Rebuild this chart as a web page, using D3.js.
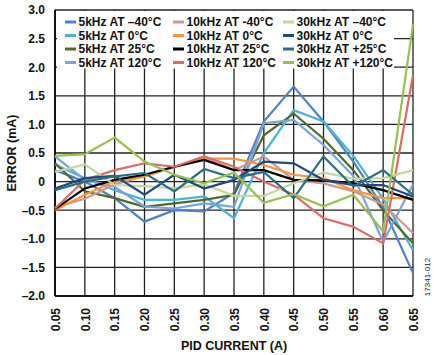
<!DOCTYPE html>
<html><head><meta charset="utf-8">
<script src="https://cdn.jsdelivr.net/npm/d3@7"></script>
<style>body{margin:0;background:#fff}svg{display:block}text{font-family:"Liberation Sans",Arial,sans-serif}</style>
</head><body><svg id="c" width="435" height="355"></svg>
<script>
const currents = [0.05,0.10,0.15,0.20,0.25,0.30,0.35,0.40,0.45,0.50,0.55,0.60,0.65];
const xTickLabels = ["0.05","0.10","0.15","0.20","0.25","0.30","0.35","0.40","0.45","0.50","0.55","0.60","0.65"];
const yTicks = [3.0,2.5,2.0,1.5,1.0,0.5,0,-0.5,-1.0,-1.5,-2.0];
const yTickLabels = ["3.0","2.5","2.0","1.5","1.0","0.5","0","–0.5","–1.0","–1.5","–2.0"];
const seriesNames = ["5kHz AT –40°C","5kHz AT 0°C","5kHz AT 25°C","5kHz AT 120°C",
  "10kHz AT -40°C","10kHz AT 0°C","10kHz AT 25°C","10kHz AT 120°C",
  "30kHz AT –40°C","30kHz AT 0°C","30kHz AT +25°C","30kHz AT +120°C"];
const seriesColors = ["#4f81c7","#4bb4d2","#4f6a28","#79a3dc","#c89a9a","#f7963f","#000000","#dc6a68","#c3d69b","#1f4a7d","#2a6f80","#97c051"];
const s5k_m40  = [0.20,0.00,-0.29,-0.70,-0.50,-0.52,-0.20,1.05,1.66,1.05,0.35,-0.45,-1.60];
const s5k_0    = [0.30,0.06,-0.15,-0.32,-0.32,-0.26,-0.64,0.50,1.25,1.05,0.45,-0.30,-1.20];
const s5k_25   = [0.32,-0.17,-0.29,-0.44,-0.38,-0.32,-0.23,0.81,1.19,0.75,0.20,-0.50,-1.08];
const s5k_120  = [0.44,0.03,-0.09,-0.44,-0.47,-0.38,-0.44,1.02,1.08,0.64,0.10,-1.05,-0.05];
const s10k_m40 = [-0.45,-0.30,-0.05,0.10,0.25,0.42,0.20,0.44,0.03,-0.03,-0.17,-0.40,-0.90];
const s10k_0   = [-0.50,-0.23,0.00,0.09,0.26,0.40,0.40,0.29,0.12,0.06,-0.15,-0.29,-0.29];
const s10k_25  = [-0.48,-0.12,0.03,0.12,0.26,0.38,0.20,0.20,0.03,0.02,-0.03,-0.15,-0.32];
const s10k_120 = [-0.47,0.03,0.20,0.32,0.26,0.44,0.26,0.00,-0.23,-0.64,-0.79,-1.08,1.86];
const s30k_m40 = [0.17,0.30,-0.06,-0.08,-0.12,-0.05,-0.25,-0.25,-0.03,0.16,0.05,0.06,0.20];
const s30k_0   = [-0.12,0.06,0.10,-0.23,0.12,-0.12,0.03,0.35,0.32,0.03,-0.06,-0.06,-0.26];
const s30k_25  = [-0.15,0.00,0.09,0.15,-0.17,0.22,0.06,0.17,-0.29,0.44,-0.09,0.20,-0.23];
const s30k_120 = [0.45,0.48,0.77,0.35,0.12,-0.03,0.16,-0.37,-0.22,-0.43,-0.23,-0.87,2.75];
const seriesValues = [s5k_m40,s5k_0,s5k_25,s5k_120,s10k_m40,s10k_0,s10k_25,s10k_120,s30k_m40,s30k_0,s30k_25,s30k_120];

const svg = d3.select("#c");
const L=55,R=413,T=10,B=296;
const x = d3.scaleLinear().domain([0.05,0.65]).range([L,R]);
const y = d3.scaleLinear().domain([-2,3]).range([B,T]);

// grid
const g = svg.append("g");
g.selectAll("line.v").data(currents).enter().append("line")
  .attr("x1",d=>x(d)).attr("x2",d=>x(d)).attr("y1",T).attr("y2",B)
  .attr("stroke","#222").attr("stroke-width",1.3);
g.selectAll("line.h").data(yTicks).enter().append("line")
  .attr("x1",L).attr("x2",R).attr("y1",d=>y(d)).attr("y2",d=>y(d))
  .attr("stroke","#222").attr("stroke-width",1.3);
g.append("line").attr("x1",L).attr("x2",L).attr("y1",T).attr("y2",B).attr("stroke","#000").attr("stroke-width",1.6);
g.append("line").attr("x1",L).attr("x2",R).attr("y1",B).attr("y2",B).attr("stroke","#000").attr("stroke-width",1.6);

// y labels
const yAxis = d3.axisLeft(y).tickValues(yTicks).tickSize(0).tickPadding(0)
  .tickFormat((d,i)=>yTickLabels[i]);
const ya = svg.append("g").attr("transform",`translate(${L-10},0)`).call(yAxis);
ya.select(".domain").remove();
ya.selectAll("text").attr("font-size",12).attr("font-weight","bold").attr("fill","#111")
  .attr("font-family","'Liberation Sans',Arial,sans-serif");

// x labels
const xAxis = d3.axisBottom(x).tickValues(currents).tickSize(0).tickFormat((d,i)=>xTickLabels[i]);
const xa = svg.append("g").attr("transform",`translate(0,${B})`).call(xAxis);
xa.select(".domain").remove();
xa.selectAll("text").attr("font-size",12).attr("font-weight","bold").attr("fill","#111")
  .attr("font-family","'Liberation Sans',Arial,sans-serif")
  .attr("transform","rotate(-90)").attr("text-anchor","end").attr("dy","0.35em")
  .attr("x",-12).attr("y",0);

// lines
const line = d3.line().x((d,i)=>x(currents[i])).y(d=>y(d));
svg.append("g").selectAll("path").data(seriesValues).enter().append("path")
  .attr("d",line).attr("fill","none").attr("stroke",(d,i)=>seriesColors[i])
  .attr("stroke-width",2.2).attr("stroke-linejoin","miter");

// legend
const lg = svg.append("g");
lg.append("rect").attr("x",L+2).attr("y",T+1).attr("width",337).attr("height",57.5).attr("fill","#fff");
const colX=[65,173,283], rowY=[22,35.5,49,62.5];
seriesNames.forEach((n,i)=>{
  const c=Math.floor(i/4), r=i%4;
  lg.append("line").attr("x1",colX[c]).attr("x2",colX[c]+11).attr("y1",rowY[r]).attr("y2",rowY[r])
    .attr("stroke",seriesColors[i]).attr("stroke-width",3);
  lg.append("text").attr("x",colX[c]+13.5).attr("y",rowY[r]).attr("dy","0.36em")
    .attr("font-size",12).attr("font-weight","bold").attr("fill","#111").text(n);
});

// axis titles
svg.append("text").attr("x",(L+R)/2).attr("y",350).attr("text-anchor","middle")
  .attr("font-size",12.5).attr("font-weight","bold").attr("fill","#111").text("PID CURRENT (A)");
svg.append("text").attr("transform",`translate(16,${(T+B)/2}) rotate(-90)`).attr("text-anchor","middle")
  .attr("font-size",12.5).attr("font-weight","bold").attr("fill","#111").text("ERROR (mA)");
svg.append("text").attr("transform",`translate(430,277) rotate(-90)`).attr("text-anchor","middle")
  .attr("font-size",8).attr("fill","#222").text("17341-012");
</script></body></html>
